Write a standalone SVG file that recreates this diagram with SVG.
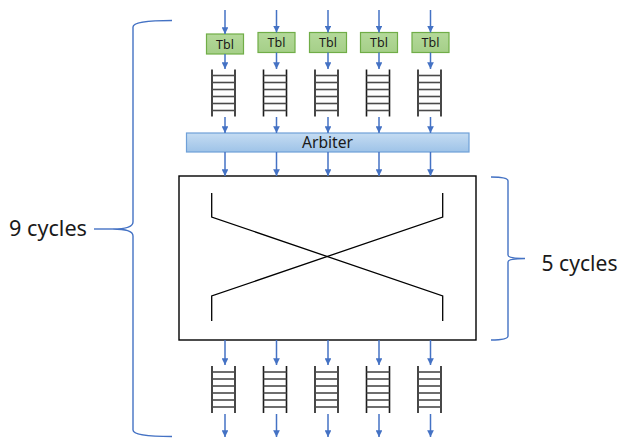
<svg xmlns="http://www.w3.org/2000/svg" width="621" height="439" viewBox="0 0 621 439">
  <defs>
    <marker id="ah" viewBox="0 0 10 10" refX="10" refY="5" markerWidth="4.5" markerHeight="4.5" orient="auto" markerUnits="strokeWidth">
      <path d="M0,0 L10,5 L0,10 z" fill="#4472c4"/>
    </marker>
    <linearGradient id="gTbl" x1="0" y1="0" x2="0" y2="1">
      <stop offset="0" stop-color="#b4d99a"/>
      <stop offset="1" stop-color="#a5cf88"/>
    </linearGradient>
    <linearGradient id="gArb" x1="0" y1="0" x2="0" y2="1">
      <stop offset="0" stop-color="#c5dcf2"/>
      <stop offset="1" stop-color="#9ec3e8"/>
    </linearGradient>
    <g id="ladder">
      <line x1="-11.5" y1="0" x2="-11.5" y2="47" class="rail"/>
      <line x1="11.5" y1="0" x2="11.5" y2="47" class="rail"/>
      <line x1="-11.5" y1="6" x2="11.5" y2="6" class="rung"/>
      <line x1="-11.5" y1="13" x2="11.5" y2="13" class="rung"/>
      <line x1="-11.5" y1="20" x2="11.5" y2="20" class="rung"/>
      <line x1="-11.5" y1="27" x2="11.5" y2="27" class="rung"/>
      <line x1="-11.5" y1="34" x2="11.5" y2="34" class="rung"/>
      <line x1="-11.5" y1="41" x2="11.5" y2="41" class="rung"/>
    </g>
  </defs>
  <style>
    .arr { stroke: #4472c4; stroke-width: 1.5; fill: none; marker-end: url(#ah); }
    .brace { stroke: #4472c4; stroke-width: 1.4; fill: none; }
    .rail { stroke: #1a1a1a; stroke-width: 1.6; }
    .rung { stroke: #4a4a4a; stroke-width: 1.6; }
    .tbl { fill: url(#gTbl); stroke: #70ad47; stroke-width: 1.2; }
    .lbl { font-family: "Noto Sans", "Noto Sans CJK JP", sans-serif; fill: #1a1a1a; }
    .xbar { stroke: #000; stroke-width: 1.3; fill: none; }
  </style>
  <rect width="621" height="439" fill="#ffffff"/>

  <!-- lookup tables -->
  <g id="tbl1"><rect class="tbl" x="206.5" y="34" width="37" height="20"/><text class="lbl" x="225" y="48.5" font-size="12.5" text-anchor="middle">Tbl</text></g>
  <g id="tbl2"><rect class="tbl" x="258" y="32.5" width="37" height="20"/><text class="lbl" x="276.5" y="47" font-size="12.5" text-anchor="middle">Tbl</text></g>
  <g id="tbl3"><rect class="tbl" x="309.5" y="32.5" width="37" height="20"/><text class="lbl" x="328" y="47" font-size="12.5" text-anchor="middle">Tbl</text></g>
  <g id="tbl4"><rect class="tbl" x="360.5" y="32.5" width="37" height="20"/><text class="lbl" x="379" y="47" font-size="12.5" text-anchor="middle">Tbl</text></g>
  <g id="tbl5"><rect class="tbl" x="412" y="32.5" width="37" height="20"/><text class="lbl" x="430.5" y="47" font-size="12.5" text-anchor="middle">Tbl</text></g>

  <!-- input queues -->
  <g id="queue-in1"><use href="#ladder" x="223.5" y="69.5"/></g>
  <g id="queue-in2"><use href="#ladder" x="275" y="69.5"/></g>
  <g id="queue-in3"><use href="#ladder" x="326.5" y="69.5"/></g>
  <g id="queue-in4"><use href="#ladder" x="378" y="69.5"/></g>
  <g id="queue-in5"><use href="#ladder" x="429.5" y="69.5"/></g>

  <!-- arbiter -->
  <g id="arbiter">
    <rect x="186.5" y="133" width="282.5" height="19" fill="url(#gArb)" stroke="#6fa0d8" stroke-width="1.2"/>
    <text class="lbl" x="302" y="148" font-size="15.5" textLength="51" lengthAdjust="spacingAndGlyphs">Arbiter</text>
  </g>

  <!-- crossbar -->
  <g id="crossbar">
    <rect x="179" y="176" width="297" height="164" fill="#ffffff" stroke="#000" stroke-width="1.4"/>
    <path class="xbar" d="M211.7,193 V217 L442.7,296 V321"/>
    <path class="xbar" d="M442.7,193 V217 L211.7,296 V321"/>
  </g>

  <!-- output queues -->
  <g id="queue-out1"><use href="#ladder" x="223.5" y="366"/></g>
  <g id="queue-out2"><use href="#ladder" x="275" y="366"/></g>
  <g id="queue-out3"><use href="#ladder" x="326.5" y="366"/></g>
  <g id="queue-out4"><use href="#ladder" x="378" y="366"/></g>
  <g id="queue-out5"><use href="#ladder" x="429.5" y="366"/></g>

  <!-- connectors -->
  <g id="connectors">
    <line class="arr" x1="225" y1="10" x2="225" y2="34"/>
    <line class="arr" x1="276.5" y1="10" x2="276.5" y2="32.5"/>
    <line class="arr" x1="328" y1="10" x2="328" y2="32.5"/>
    <line class="arr" x1="379" y1="10" x2="379" y2="32.5"/>
    <line class="arr" x1="430.5" y1="10" x2="430.5" y2="32.5"/>

    <line class="arr" x1="225" y1="54" x2="225" y2="69"/>
    <line class="arr" x1="276.5" y1="52.5" x2="276.5" y2="69"/>
    <line class="arr" x1="328" y1="52.5" x2="328" y2="69"/>
    <line class="arr" x1="379" y1="52.5" x2="379" y2="69"/>
    <line class="arr" x1="430.5" y1="52.5" x2="430.5" y2="69"/>

    <line class="arr" x1="225" y1="117" x2="225" y2="133"/>
    <line class="arr" x1="276.5" y1="117" x2="276.5" y2="133"/>
    <line class="arr" x1="328" y1="117" x2="328" y2="133"/>
    <line class="arr" x1="379" y1="117" x2="379" y2="133"/>
    <line class="arr" x1="430.5" y1="117" x2="430.5" y2="133"/>

    <line class="arr" x1="225" y1="152" x2="225" y2="176"/>
    <line class="arr" x1="276.5" y1="152" x2="276.5" y2="176"/>
    <line class="arr" x1="328" y1="152" x2="328" y2="176"/>
    <line class="arr" x1="379" y1="152" x2="379" y2="176"/>
    <line class="arr" x1="430.5" y1="152" x2="430.5" y2="176"/>

    <line class="arr" x1="225" y1="340" x2="225" y2="365"/>
    <line class="arr" x1="276.5" y1="340" x2="276.5" y2="365"/>
    <line class="arr" x1="328" y1="340" x2="328" y2="365"/>
    <line class="arr" x1="379" y1="340" x2="379" y2="365"/>
    <line class="arr" x1="430.5" y1="340" x2="430.5" y2="365"/>

    <line class="arr" x1="225" y1="414" x2="225" y2="437"/>
    <line class="arr" x1="276.5" y1="414" x2="276.5" y2="437"/>
    <line class="arr" x1="328" y1="414" x2="328" y2="437"/>
    <line class="arr" x1="379" y1="414" x2="379" y2="437"/>
    <line class="arr" x1="430.5" y1="414" x2="430.5" y2="437"/>
  </g>

  <!-- timing braces -->
  <g id="brace-9">
    <path class="brace" d="M172,20.5 C150,20.5 133,22 133,27 L133,222 C133,227 125,229 113,229 C125,229 133,231 133,236 L133,430 C133,435 150,436.5 172,436.5"/>
    <line x1="94" y1="229" x2="113" y2="229" stroke="#4472c4" stroke-width="1.4"/>
    <text class="lbl" x="9" y="235.5" font-size="21" textLength="78" lengthAdjust="spacingAndGlyphs">9 cycles</text>
  </g>
  <g id="brace-5">
    <path class="brace" d="M491,177 C501,177 508,178 508,181 L508,255 C508,257 514,258.5 525,258.5 C514,258.5 508,260 508,262 L508,336 C508,339 501,340 491,340"/>
    <text class="lbl" x="541.5" y="270.5" font-size="21" textLength="76" lengthAdjust="spacingAndGlyphs">5 cycles</text>
  </g>
</svg>
